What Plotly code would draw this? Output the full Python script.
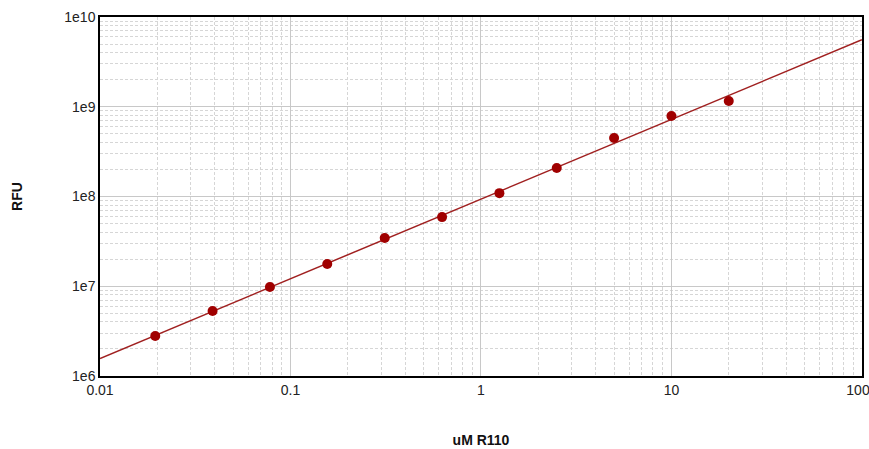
import numpy as np
import plotly.graph_objects as go

conc_um = [0.0195, 0.039, 0.078, 0.156, 0.3125, 0.625, 1.25, 2.5, 5, 10, 20]
rfu = [2.79e6, 5.3e6, 9.8e6, 1.77e7, 3.45e7, 5.9e7, 1.09e8, 2.08e8, 4.49e8, 7.9e8, 1.16e9]

x_tick_vals = [0.01, 0.1, 1, 10, 100]
x_tick_text = ["0.01", "0.1", "1", "10", "100\u00a0\u00a0"]
y_tick_vals = [1e6, 1e7, 1e8, 1e9, 1e10]
y_tick_text = ["1e6", "1e7", "1e8", "1e9", "1e10"]

# power-law fit in log-log space
slope, intercept = np.polyfit(np.log10(conc_um), np.log10(rfu), 1)
fx = np.logspace(-2, 2, 100)
fy = 10 ** (intercept + slope * np.log10(fx))

fig = go.Figure()
fig.add_trace(go.Scatter(x=fx, y=fy, mode="lines",
                         line=dict(color="#a02020", width=1.5),
                         hoverinfo="skip", showlegend=False))
fig.add_trace(go.Scatter(x=conc_um, y=rfu, mode="markers",
                         marker=dict(color="#a00000", size=10),
                         showlegend=False))

font_ticks = dict(family="Liberation Sans, Arial", size=14, color="#222")
axis_common = dict(
    type="log", automargin=False, ticklabeloverflow="allow",
    showgrid=True, gridcolor="#c8c8c8", gridwidth=1,
    showline=True, linecolor="black", linewidth=1.5, mirror=True,
    ticks="", zeroline=False,
    tickfont=font_ticks,
    minor=dict(dtick="D1", showgrid=True, gridcolor="#d6d6d6", griddash="3px,2px", gridwidth=1, ticks=""),
)

fig.update_layout(
    width=869, height=449,
    margin=dict(l=100, r=7, t=17, b=73),
    paper_bgcolor="white", plot_bgcolor="white",
    xaxis=dict(axis_common, range=[-2, 2.0005], tickvals=x_tick_vals, ticktext=x_tick_text,
               title=dict(text="<b>uM R110</b>", standoff=39,
                          font=dict(family="Liberation Sans, Arial", size=14, color="#111"))),
    yaxis=dict(axis_common, range=[6, 10.0005], tickvals=y_tick_vals, ticktext=y_tick_text,
               title=dict(text="<b>RFU</b>", standoff=38,
                          font=dict(family="Liberation Sans, Arial", size=14, color="#111"))),
)

fig.write_html("out.html",
               config={"displayModeBar": False},
               post_script="document.body.style.margin='0';document.body.style.overflow='hidden';")
